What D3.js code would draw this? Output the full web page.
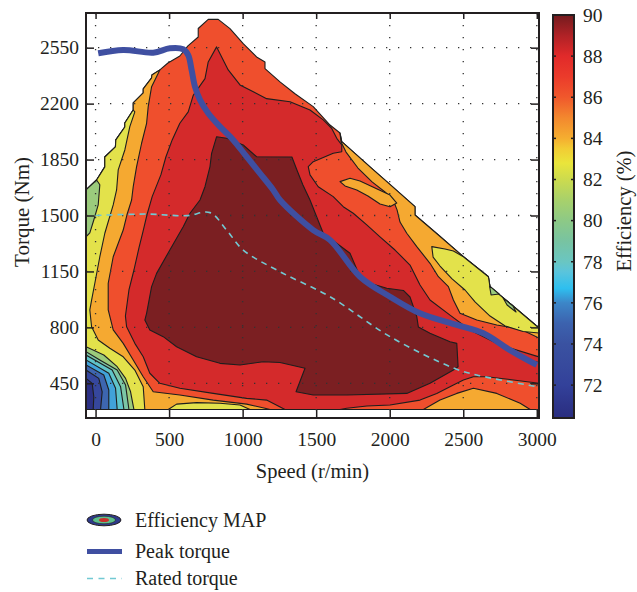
<!DOCTYPE html>
<html><head><meta charset="utf-8">
<script src="https://cdn.jsdelivr.net/npm/d3@7"></script>
<style>
body{margin:0;background:#fff}
svg{display:block}
text{font-family:"Liberation Serif","Times New Roman",serif;fill:#231F20}
</style></head>
<body><svg id="chart" width="637" height="592"></svg>
<script>
// ---------------- DATA (speed r/min, torque Nm) ----------------
const speedTicks = [0, 500, 1000, 1500, 2000, 2500, 3000];
const torqueTicks = [450, 800, 1150, 1500, 1850, 2200, 2550];
const effTicks = [72, 74, 76, 78, 80, 82, 84, 86, 88, 90];

// colour bar: efficiency values and colours
const cbValues = [70.4, 71, 72, 73, 74, 75, 76, 76.7, 77.5, 78, 79, 80, 81, 82, 82.8, 83.5, 84, 85, 86, 87, 88, 89, 90];
const cbColors = ['#2A2D80','#2D3489','#33419A','#374A9D','#3A52A1','#3C62AE','#3C86C8','#2EBFEF','#5AC4DC','#6AC6C2','#78C3A1','#8DC986','#A8D16B','#CCDB4E','#EAE53B','#F2CC34','#F5AE30','#F3882E','#F0582C','#EB3B2B','#E12A2A','#B02226','#741B1E'];

// efficiency map: contour regions (speed, torque)
const envelope = [[-65,286],[-65,1660],[7,1722],[63,1804],[63,1866],[135,1929],[138,1973],[199,2054],[199,2079],[256,2160],[256,2204],[324,2267],[324,2292],[381,2361],[383,2379],[437,2411],[492,2454],[573,2498],[628,2561],[698,2617],[698,2670],[766,2727],[834,2727],[914,2669],[1004,2575],[1095,2492],[1152,2461],[1152,2419],[1254,2336],[1356,2262],[1480,2181],[1594,2066],[1662,2016],[1674,1962],[1889,1785],[1980,1712],[2172,1555],[2172,1503],[2331,1378],[2501,1242],[2671,1117],[2682,1053],[2830,940],[3015,796],[3015,286]];
const orangeLeft = [[-65,286],[-65,1660],[7,1722],[63,1804],[63,1866],[135,1929],[138,1973],[199,2054],[199,2079],[256,2160],[256,2204],[324,2267],[324,2292],[381,2361],[383,2379],[437,2411],[381,2306],[358,2181],[347,2077],[313,1952],[279,1806],[256,1680],[245,1597],[213,1503],[188,1409],[120,1242],[86,1076],[86,909],[120,784],[188,700],[256,596],[324,491],[392,397],[573,377],[800,345],[1027,320],[1152,294],[1186,286]];
const orangeRight = [[1662,2016],[1674,1962],[1889,1785],[1980,1712],[2172,1555],[2172,1503],[2331,1378],[2501,1242],[2671,1117],[2682,1053],[2830,940],[3015,796],[3015,733],[2887,790],[2728,815],[2592,846],[2478,888],[2433,971],[2399,1055],[2331,1117],[2274,1201],[2184,1305],[2116,1389],[2070,1459],[2050,1535],[2023,1597],[1968,1647],[1880,1710],[1784,1797],[1703,1897],[1669,1960]];
const orangeTongue = [[1662,1712],[1730,1733],[1798,1716],[1900,1672],[2002,1628],[2048,1578],[2002,1555],[1934,1572],[1852,1622],[1776,1660],[1696,1685]];
const orangeBottom = [[2229,286],[2342,345],[2456,387],[2569,419],[2728,387],[2887,325],[2955,286]];
const yellowLeft = [[-65,286],[-65,1660],[7,1722],[63,1804],[63,1866],[135,1929],[138,1973],[199,2054],[199,2079],[256,2160],[267,2148],[233,2056],[199,1910],[154,1785],[143,1660],[120,1566],[63,1389],[29,1242],[-5,1076],[-27,971],[-39,909],[-27,804],[18,721],[97,669],[188,616],[267,533],[324,429],[335,286]];
const yellowIsland = [[2286,1305],[2376,1290],[2433,1278],[2501,1242],[2671,1117],[2682,1053],[2830,940],[3015,796],[3015,765],[2907,774],[2785,809],[2682,871],[2580,959],[2512,1034],[2424,1103],[2342,1184],[2295,1240]];
const yellowSliver = [[494,286],[551,320],[687,329],[846,325],[982,314],[1050,286]];
const greenTop = [[-65,1660],[7,1722],[29,1692],[18,1566],[-12,1472],[-39,1391],[-65,1366]];
const greenBit1 = [[2679,1059],[2744,1009],[2689,1003]];
const greenBit2 = [[2771,984],[2838,934],[2859,896],[2798,940]];
const fan1 = [[-65,286],[-65,679],[56,627],[147,554],[204,481],[238,397],[261,286]];
const fan2 = [[-65,286],[-65,648],[29,596],[147,533],[204,439],[227,286]];
const fan3 = [[-65,286],[-65,627],[113,533],[170,429],[193,286]];
const fan4 = [[-65,286],[-65,596],[90,513],[136,419],[147,286]];
const fan5 = [[-65,286],[-65,565],[56,502],[90,408],[90,286]];
const fan6 = [[-65,286],[-65,533],[22,481],[45,397],[34,286]];
const fan7 = [[-65,286],[-65,481],[-23,450],[-12,366],[-16,286]];
const red = [[823,2555],[902,2411],[982,2317],[1163,2231],[1322,2212],[1458,2160],[1548,2098],[1605,2046],[1640,1983],[1674,1941],[1674,1899],[1616,1889],[1480,1837],[1446,1806],[1458,1754],[1514,1680],[1616,1618],[1684,1555],[1752,1514],[1844,1441],[1934,1366],[2036,1284],[2138,1190],[2206,1065],[2274,971],[2410,877],[2546,784],[2750,690],[3015,615],[3015,450],[2841,471],[2660,491],[2569,491],[2501,471],[2433,439],[2320,387],[2206,345],[2002,314],[1844,308],[1708,294],[1662,286],[1288,286],[1163,345],[1027,356],[800,387],[573,419],[437,450],[369,513],[324,616],[267,700],[211,804],[203,871],[227,1034],[261,1159],[295,1297],[322,1397],[349,1503],[385,1618],[444,1754],[478,1866],[521,1973],[573,2077],[630,2148],[664,2252],[744,2356],[766,2461]];
const darkRed = [[823,1993],[891,1983],[1004,1941],[1095,1868],[1335,1866],[1369,1785],[1410,1691],[1458,1597],[1512,1472],[1548,1389],[1730,1264],[1798,1117],[1866,1076],[1980,1045],[2093,1031],[2138,990],[2184,867],[2195,802],[2274,763],[2410,710],[2456,700],[2465,554],[2433,533],[2274,450],[2116,387],[1708,377],[1480,377],[1363,397],[1424,544],[1254,580],[1140,585],[982,565],[846,575],[687,616],[551,679],[460,742],[369,784],[335,846],[347,888],[381,1055],[415,1138],[505,1284],[596,1430],[642,1514],[710,1597],[744,1680],[778,1806],[789,1889]];

// characteristic curves
const peakTorque = [[18,2515],[188,2536],[392,2519],[505,2546],[596,2540],[630,2504],[653,2411],[676,2306],[710,2223],[766,2140],[846,2056],[936,1973],[1027,1868],[1118,1764],[1208,1660],[1254,1597],[1480,1409],[1594,1347],[1798,1117],[2002,992],[2206,888],[2456,815],[2637,763],[2818,658],[3000,565]];
const ratedTorque = [[0,1500],[347,1509],[619,1499],[778,1518],[891,1409],[1004,1284],[1254,1148],[1594,992],[2002,742],[2433,546],[2592,502],[3000,429]];

// band colours
const C = {darkNavy:'#2C3084', navy:'#36479D', blue:'#3D66B0', lightBlue:'#41A2D9', teal:'#5FC4C9', tealGreen:'#7BC6A6', green:'#9BCB7C', yellow:'#E3E24B', orange:'#F5A931', redOrange:'#EF4F2D', red:'#D42A2B', darkRed:'#7B1F22'};

// ---------------- DRAW ----------------
const svg = d3.select('#chart');
const x = d3.scaleLinear().domain([-65, 3015]).range([86, 539]);
const y = d3.scaleLinear().domain([233, 2767]).range([418, 13]);
const ink = '#231F20';

svg.append('defs').append('clipPath').attr('id','plotclip')
  .append('rect').attr('x',x(-65)).attr('y',y(2767)).attr('width',x(3015)-x(-65)).attr('height',y(233)-y(2767));

const line = d3.line().x(d=>x(d[0])).y(d=>y(d[1]));
const layers = [
  [envelope, C.redOrange],
  [orangeLeft, C.orange],[orangeRight, C.orange],[orangeTongue, C.orange],[orangeBottom, C.orange],
  [yellowLeft, C.yellow],[yellowIsland, C.yellow],[yellowSliver, C.yellow],
  [greenTop, C.green],[greenBit1, C.green],[greenBit2, C.green],
  [fan1, C.green],[fan2, C.tealGreen],[fan3, C.teal],[fan4, C.lightBlue],[fan5, C.blue],[fan6, C.navy],[fan7, C.darkNavy],
  [red, C.red],[darkRed, C.darkRed]
];
const map = svg.append('g').attr('clip-path','url(#plotclip)');
map.selectAll('path.band').data(layers).join('path').attr('class','band')
  .attr('d', d => line(d[0]) + 'Z')
  .attr('fill', d => d[1]).attr('stroke', '#1E1E1E').attr('stroke-width', 1.1).attr('stroke-linejoin','round');

// dotted grid
const grid = svg.append('g').attr('stroke','#333').attr('stroke-width',1.3).attr('stroke-dasharray','1.3,10.7');
grid.selectAll('line.v').data(speedTicks).join('line').attr('class','v')
  .attr('x1',d=>x(d)).attr('x2',d=>x(d)).attr('y1',y(2767)).attr('y2',y(233));
grid.selectAll('line.h').data(torqueTicks).join('line').attr('class','h')
  .attr('y1',d=>y(d)).attr('y2',d=>y(d)).attr('x1',x(-65)).attr('x2',x(3015));

// curves
const smooth = d3.line().x(d=>x(d[0])).y(d=>y(d[1])).curve(d3.curveCatmullRom.alpha(0.5));
svg.append('path').attr('d', smooth(ratedTorque)).attr('fill','none')
  .attr('stroke','#72C9D3').attr('stroke-width',1.6).attr('stroke-dasharray','6,5');
svg.append('path').attr('d', smooth(peakTorque)).attr('fill','none')
  .attr('stroke','#3F4FA1').attr('stroke-width',6).attr('stroke-linejoin','round');

// axes
const fmt = d3.format('d');
function styleAxis(g){ g.select('.domain').remove(); g.selectAll('.tick line').attr('stroke',ink).attr('stroke-width',1.5);
  g.selectAll('text').attr('font-size',19.5).attr('fill',ink).style('font-family','"Liberation Serif",serif'); }
svg.append('g').attr('transform',`translate(0,${y(233)})`)
  .call(d3.axisBottom(x).tickValues(speedTicks).tickFormat(fmt).tickSizeInner(-8).tickSizeOuter(0).tickPadding(14)).call(styleAxis);
svg.append('g').attr('transform',`translate(0,${y(2767)})`)
  .call(d3.axisTop(x).tickValues(speedTicks).tickSizeInner(-6).tickSizeOuter(0).tickFormat('')).call(styleAxis);
svg.append('g').attr('transform',`translate(${x(-65)},0)`)
  .call(d3.axisLeft(y).tickValues(torqueTicks).tickFormat(fmt).tickSizeInner(-8).tickSizeOuter(0).tickPadding(7)).call(styleAxis);
svg.append('g').attr('transform',`translate(${x(3015)},0)`)
  .call(d3.axisRight(y).tickValues(torqueTicks).tickSizeInner(-8).tickSizeOuter(0).tickFormat('')).call(styleAxis);
svg.append('rect').attr('x',x(-65)).attr('y',y(2767)).attr('width',x(3015)-x(-65)).attr('height',y(233)-y(2767))
  .attr('fill','none').attr('stroke',ink).attr('stroke-width',2);

svg.append('text').attr('x',(x(-65)+x(3015))/2).attr('y',478).attr('text-anchor','middle').attr('font-size',20.5).text('Speed (r/min)');
svg.append('text').attr('transform',`translate(29,212) rotate(-90)`).attr('text-anchor','middle').attr('font-size',21).text('Torque (Nm)');

// colour bar
const cy = d3.scaleLinear().domain([70.4, 90]).range([418, 15]);
const grad = svg.select('defs').append('linearGradient').attr('id','cbgrad').attr('x1',0).attr('x2',0).attr('y1',1).attr('y2',0);
grad.selectAll('stop').data(cbValues).join('stop')
  .attr('offset',d=>(d-70.4)/(90-70.4)).attr('stop-color',(d,i)=>cbColors[i]);
const cbx0 = 553, cbx1 = 574;
svg.append('rect').attr('x',cbx0).attr('y',cy(90)).attr('width',cbx1-cbx0).attr('height',cy(70.4)-cy(90))
  .attr('fill','url(#cbgrad)').attr('stroke',ink).attr('stroke-width',2);
const cbt = svg.append('g');
cbt.selectAll('line.l').data(effTicks).join('line').attr('class','l')
  .attr('x1',cbx0).attr('x2',cbx0+3).attr('y1',d=>cy(d)).attr('y2',d=>cy(d)).attr('stroke',ink).attr('stroke-width',1.5);
cbt.selectAll('line.r').data(effTicks).join('line').attr('class','r')
  .attr('x1',cbx1-3).attr('x2',cbx1).attr('y1',d=>cy(d)).attr('y2',d=>cy(d)).attr('stroke',ink).attr('stroke-width',1.5);
cbt.selectAll('text').data(effTicks).join('text').attr('x',583).attr('y',d=>cy(d)).attr('dy','0.35em')
  .attr('font-size',19.5).text(d=>d);
svg.append('text').attr('transform',`translate(631,211) rotate(-90)`).attr('text-anchor','middle').attr('font-size',20.5).text('Efficiency (%)');

// legend
const lg = svg.append('g');
lg.append('ellipse').attr('cx',104).attr('cy',520).attr('rx',17).attr('ry',5.8).attr('fill','#2E3A8C').attr('stroke',ink).attr('stroke-width',1);
lg.append('ellipse').attr('cx',104).attr('cy',520).attr('rx',11.5).attr('ry',3.8).attr('fill','#5DBF8C').attr('stroke',ink).attr('stroke-width',0.6);
lg.append('ellipse').attr('cx',104).attr('cy',520).attr('rx',5).attr('ry',2).attr('fill','#C9302B');
lg.append('text').attr('x',135).attr('y',527).attr('font-size',20).text('Efficiency MAP');
lg.append('line').attr('x1',87).attr('x2',122).attr('y1',551.5).attr('y2',551.5).attr('stroke','#3F4FA1').attr('stroke-width',5);
lg.append('text').attr('x',135).attr('y',558).attr('font-size',20).text('Peak torque');
lg.append('line').attr('x1',87).attr('x2',122).attr('y1',578.5).attr('y2',578.5).attr('stroke','#72C9D3').attr('stroke-width',1.4).attr('stroke-dasharray','6,5.5');
lg.append('text').attr('x',135).attr('y',585).attr('font-size',20).text('Rated torque');
</script></body></html>
